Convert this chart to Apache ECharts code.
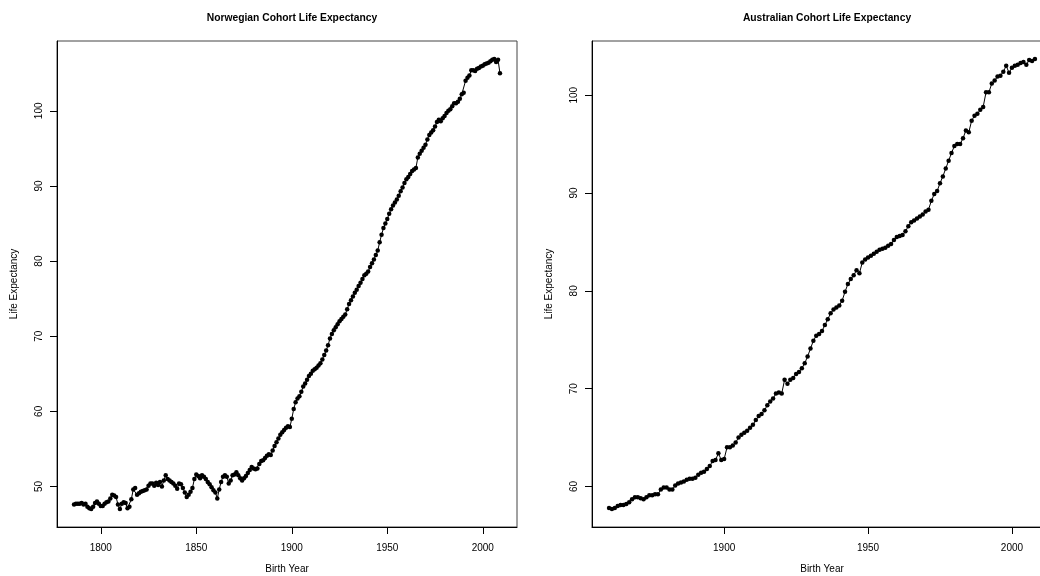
<!DOCTYPE html>
<html>
<head>
<meta charset="utf-8">
<script src="https://cdn.jsdelivr.net/npm/echarts@6/dist/echarts.min.js"></script>
<style>html,body{margin:0;padding:0;background:#fff;}#c{width:1040px;height:576px;}</style>
</head>
<body>
<div id="c"></div>
<script>
// Norwegian cohort life expectancy, birth years 1786-2009
const norYearStart = 1786;
const norValues = [
47.6,47.7,47.7,47.7,47.8,47.6,47.7,47.3,47.1,47.0,
47.3,47.8,48.0,47.7,47.4,47.4,47.7,47.9,48.0,48.4,
48.9,48.8,48.6,47.6,47.0,47.7,47.9,47.8,47.1,47.3,
48.3,49.6,49.8,48.9,49.1,49.3,49.4,49.5,49.6,50.1,
50.4,50.4,50.1,50.5,50.2,50.6,50.0,50.8,51.5,51.0,
50.8,50.6,50.4,50.1,49.7,50.4,50.3,49.8,49.2,48.6,
48.9,49.3,49.8,51.0,51.6,51.4,51.1,51.5,51.3,51.0,
50.6,50.3,49.9,49.5,49.2,48.4,49.6,50.6,51.3,51.5,
51.3,50.4,50.8,51.5,51.6,51.9,51.5,51.1,50.8,51.1,
51.4,51.8,52.2,52.6,52.4,52.3,52.4,53.0,53.4,53.5,
53.8,54.1,54.3,54.2,54.8,55.4,55.9,56.4,56.9,57.2,
57.5,57.8,58.0,57.9,59.0,60.3,61.2,61.7,62.0,62.6,
63.3,63.7,64.2,64.7,65.0,65.4,65.6,65.8,66.1,66.4,
66.9,67.5,68.1,68.8,69.7,70.3,70.8,71.2,71.6,72.0,
72.3,72.6,72.9,73.6,74.3,74.8,75.3,75.8,76.2,76.7,
77.1,77.6,78.1,78.3,78.6,79.2,79.7,80.2,80.8,81.4,
82.5,83.5,84.4,85.0,85.6,86.3,86.9,87.4,87.8,88.2,
88.7,89.3,89.8,90.4,90.9,91.2,91.6,92.0,92.2,92.4,
93.8,94.3,94.7,95.1,95.5,96.2,96.8,97.1,97.4,97.9,
98.5,98.8,98.6,99.0,99.3,99.7,100.0,100.2,100.6,101.0,
101.0,101.2,101.6,102.2,102.4,104.0,104.4,104.7,105.4,105.4,
105.3,105.6,105.7,105.9,106.0,106.2,106.3,106.4,106.6,106.8,
106.9,106.5,106.8,105.0
];
// Australian cohort life expectancy, birth years 1860-2008
const ausYearStart = 1860;
const ausValues = [
57.8,57.7,57.8,58.0,58.1,58.1,58.2,58.4,58.7,58.9,
58.9,58.8,58.7,58.9,59.1,59.1,59.2,59.2,59.7,59.9,
59.9,59.7,59.7,60.1,60.3,60.4,60.5,60.7,60.8,60.8,
60.9,61.2,61.4,61.5,61.8,62.1,62.6,62.7,63.4,62.7,
62.8,64.0,64.0,64.2,64.5,65.0,65.3,65.5,65.7,66.0,
66.3,66.8,67.2,67.4,67.8,68.3,68.7,69.0,69.5,69.6,
69.5,70.9,70.5,70.9,71.1,71.5,71.7,72.1,72.6,73.3,
74.1,74.9,75.4,75.6,75.9,76.5,77.1,77.7,78.1,78.3,
78.5,79.0,79.9,80.7,81.2,81.6,82.1,81.8,82.9,83.2,
83.4,83.6,83.8,84.0,84.2,84.3,84.4,84.6,84.8,85.2,
85.5,85.6,85.7,86.1,86.6,87.0,87.2,87.4,87.6,87.8,
88.1,88.3,89.2,89.9,90.2,91.0,91.7,92.5,93.3,94.1,
94.8,95.0,95.0,95.6,96.4,96.2,97.4,97.9,98.1,98.5,
98.8,100.3,100.3,101.2,101.5,101.9,102.0,102.4,103.0,102.3,
102.8,103.0,103.1,103.3,103.4,103.1,103.6,103.5,103.7
];
const norXTicks = [1800, 1850, 1900, 1950, 2000];
const norYTicks = [50, 60, 70, 80, 90, 100];
const ausXTicks = [1900, 1950, 2000];
const ausYTicks = [60, 70, 80, 90, 100];
const titles = ['Norwegian Cohort Life Expectancy', 'Australian Cohort Life Expectancy'];
const xName = 'Birth Year';
const yName = 'Life Expectancy';

function pairs(start, vals) { return vals.map((v, i) => [start + i, v]); }
function rng(arr) {
  const mn = Math.min(...arr), mx = Math.max(...arr), d = (mx - mn) * 0.04;
  return [mn - d, mx + d];
}
const norData = pairs(norYearStart, norValues);
const ausData = pairs(ausYearStart, ausValues);
const norX = rng(norData.map(p => p[0])), norY = rng(norValues);
const ausX = rng(ausData.map(p => p[0])), ausY = rng(ausValues);

const FONT = 'Liberation Sans, Arial, Helvetica, sans-serif';
const W = 460, H = 486, TOP = 41, L1 = 57, L2 = 592;

function xAxis(idx, r, ticks) {
  return {
    type: 'value', gridIndex: idx, min: r[0], max: r[1],
    name: xName, nameLocation: 'middle', nameGap: 37,
    nameTextStyle: { fontFamily: FONT, fontSize: 10, color: '#000' },
    axisLine: { show: true, lineStyle: { color: '#000', width: 1 } },
    axisTick: { show: true, length: 7, customValues: ticks, lineStyle: { color: '#000' } },
    axisLabel: { customValues: ticks, formatter: v => String(v), fontFamily: FONT, fontSize: 10, color: '#000', margin: 16 },
    splitLine: { show: false }
  };
}
function yAxis(idx, r, ticks) {
  return {
    type: 'value', gridIndex: idx, min: r[0], max: r[1],
    name: yName, nameLocation: 'middle', nameGap: 38,
    nameTextStyle: { fontFamily: FONT, fontSize: 10, color: '#000' },
    axisLine: { show: true, lineStyle: { color: '#000', width: 1 } },
    axisTick: { show: true, length: 7, customValues: ticks, lineStyle: { color: '#000' } },
    axisLabel: { customValues: ticks, formatter: v => String(v), rotate: 90, fontFamily: FONT, fontSize: 10, color: '#000', margin: 13 },
    splitLine: { show: false }
  };
}
function series(idx, data) {
  return {
    type: 'line', xAxisIndex: idx, yAxisIndex: idx, data: data,
    symbol: 'circle', symbolSize: 4.5, showSymbol: true,
    lineStyle: { color: '#000', width: 1 }, itemStyle: { color: '#000' },
    animation: false, silent: true
  };
}

const chart = echarts.init(document.getElementById('c'), null, { renderer: 'canvas' });
chart.setOption({
  backgroundColor: '#fff',
  animation: false,
  title: [
    { text: titles[0], left: L1 + W / 2, top: 8, textAlign: 'center',
      textStyle: { fontFamily: FONT, fontSize: 10.3, fontWeight: 'bold', color: '#000' } },
    { text: titles[1], left: L2 + W / 2, top: 8, textAlign: 'center',
      textStyle: { fontFamily: FONT, fontSize: 10.3, fontWeight: 'bold', color: '#000' } }
  ],
  grid: [
    { left: L1, top: TOP, width: W, height: H, show: true, borderColor: '#444', borderWidth: 1,
      backgroundColor: 'transparent', containLabel: false, outerBoundsMode: 'none' },
    { left: L2, top: TOP, width: W, height: H, show: true, borderColor: '#444', borderWidth: 1,
      backgroundColor: 'transparent', containLabel: false, outerBoundsMode: 'none' }
  ],
  xAxis: [xAxis(0, norX, norXTicks), xAxis(1, ausX, ausXTicks)],
  yAxis: [yAxis(0, norY, norYTicks), yAxis(1, ausY, ausYTicks)],
  series: [series(0, norData), series(1, ausData)]
});
</script>
</body>
</html>
